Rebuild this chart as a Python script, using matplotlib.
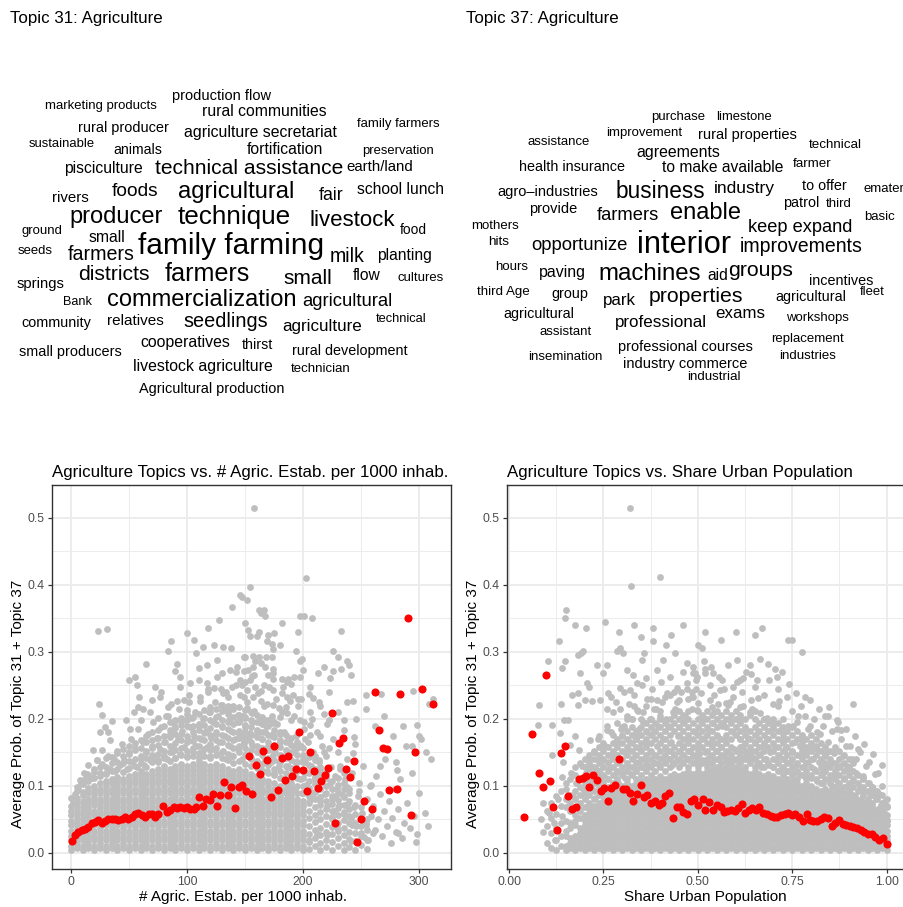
import matplotlib
matplotlib.use("Agg")
import matplotlib.pyplot as plt
from matplotlib.ticker import MultipleLocator

plt.rcParams['font.family'] = ['Liberation Sans', 'DejaVu Sans']

# ---------------------------------------------------------------- data
TITLE_31 = "Topic 31: Agriculture"
TITLE_37 = "Topic 37: Agriculture"

# word clouds: word, left px, right px, vertical centre px (layout)
WORDS_31 = [
    ("marketing products", 45, 157, 106), ("production flow", 172, 271, 96),
    ("rural communities", 202, 327, 112), ("rural producer", 78, 169, 128),
    ("agriculture secretariat", 183, 337, 132), ("family farmers", 357, 440, 124),
    ("sustainable", 29, 95, 144), ("animals", 113, 162, 150),
    ("fortification", 246, 323, 149), ("preservation", 362, 434, 151),
    ("pisciculture", 64, 143, 169), ("technical assistance", 155, 344, 168),
    ("earth/land", 346, 413, 167), ("rivers", 52, 89, 198), ("foods", 112, 159, 192),
    ("agricultural", 178, 295, 192), ("fair", 319, 344, 195), ("school lunch", 357, 444, 189),
    ("producer", 69, 163, 217), ("technique", 177, 291, 217), ("livestock", 309, 395, 220),
    ("food", 400, 427, 230), ("ground", 21, 62, 231), ("small", 88, 125, 238),
    ("family farming", 137, 325, 246), ("seeds", 18, 53, 251), ("farmers", 68, 135, 254),
    ("milk", 330, 365, 256), ("planting", 377, 432, 255), ("springs", 17, 65, 284),
    ("districts", 78, 150, 275), ("farmers", 164, 250, 274), ("small", 283, 332, 279),
    ("flow", 353, 381, 276), ("cultures", 398, 444, 278), ("Bank", 63, 92, 302),
    ("commercialization", 107, 297, 300), ("agricultural", 302, 393, 302),
    ("community", 21, 91, 323), ("relatives", 107, 164, 321), ("seedlings", 184, 268, 321),
    ("agriculture", 282, 362, 327), ("technical", 376, 427, 319),
    ("small producers", 19, 122, 352), ("cooperatives", 140, 230, 343),
    ("thirst", 242, 273, 345), ("rural development", 292, 408, 351),
    ("livestock agriculture", 133, 273, 366), ("technician", 291, 351, 369),
    ("Agricultural production", 139, 284, 389),
]
WORDS_37 = [
    ("purchase", 651, 705, 117), ("limestone", 716, 772, 117), ("assistance", 528, 590, 142),
    ("improvement", 606, 682, 133), ("rural properties", 698, 797, 135),
    ("technical", 809, 862, 145), ("agreements", 636, 720, 152),
    ("health insurance", 519, 625, 167), ("to make available", 662, 784, 167),
    ("farmer", 793, 832, 164), ("agro\u2013industries", 498, 598, 192),
    ("business", 616, 705, 192), ("industry", 714, 775, 188), ("to offer", 802, 847, 186),
    ("emater", 863, 904, 189), ("provide", 529, 577, 209), ("farmers", 596, 659, 215),
    ("enable", 670, 741, 213), ("patrol", 783, 819, 203), ("third", 826, 852, 204),
    ("basic", 864, 895, 217), ("keep expand", 748, 853, 228), ("mothers", 471, 519, 226),
    ("hits", 488, 509, 242), ("opportunize", 531, 628, 245), ("interior", 637, 732, 245),
    ("improvements", 740, 863, 247), ("hours", 495, 528, 267), ("paving", 539, 586, 273),
    ("machines", 598, 701, 274), ("aid", 707, 728, 275), ("groups", 728, 793, 270),
    ("incentives", 809, 873, 281), ("fleet", 860, 885, 292), ("third Age", 477, 530, 292),
    ("group", 551, 588, 294), ("park", 603, 636, 300), ("properties", 648, 743, 297),
    ("agricultural", 775, 846, 297), ("agricultural", 503, 574, 314), ("exams", 715, 765, 313),
    ("workshops", 786, 849, 318), ("professional", 615, 707, 323),
    ("assistant", 540, 592, 332), ("replacement", 771, 844, 339), ("industries", 779, 836, 356),
    ("professional courses", 618, 752, 347), ("insemination", 528, 603, 357),
    ("industry commerce", 623, 747, 364), ("industrial", 687, 741, 377),
]

TITLE_L = "Agriculture Topics vs. # Agric. Estab. per 1000 inhab."
TITLE_R = "Agriculture Topics vs. Share Urban Population"
XLABEL_L = "# Agric. Estab. per 1000 inhab."
XLABEL_R = "Share Urban Population"
YLABEL = "Average Prob. of Topic 31 + Topic 37"
XTICKS_L = [0, 100, 200, 300]
XTICKLABELS_L = ["0", "100", "200", "300"]
XTICKS_R = [0.0, 0.25, 0.5, 0.75, 1.0]
XTICKLABELS_R = ["0.00", "0.25", "0.50", "0.75", "1.00"]
YTICKS = [0.0, 0.1, 0.2, 0.3, 0.4, 0.5]
YTICKLABELS = ["0.0", "0.1", "0.2", "0.3", "0.4", "0.5"]

# binned means (red), left panel: estab. per 1000 inhab., probability
RED_L_X = [1.1, 3.4, 6.3, 9.2, 12, 14.9, 17.8, 20.7, 23.6, 26.4, 29.3, 32.2, 35.1, 38, 40.8,
           43.7, 46.6, 49.5, 52.4, 55.3, 58.1, 61, 63.9, 66.8, 69.7, 72.6, 75.4, 79.2, 82.6,
           85.5, 88.4, 91.3, 94.2, 97.1, 100, 102.9, 105.7, 108, 110.3, 113.4, 116.3, 119.5,
           122.4, 125.9, 128.7, 131.6, 135.1, 138, 141.7, 144.6, 147.5, 151,
           290.2, 262, 283.9, 302.6, 311.8, 225, 265.5, 196.8, 234.2, 231.3, 269.3, 272.1,
           296.3, 153.7, 165.8, 175.3, 169, 159.5, 181.6, 187.3, 206.3, 243.7, 162.9, 193.7,
           199.7, 190.8, 184.8, 209.5, 221.8, 218.7, 215.5, 237.3, 240.3, 212.7, 203.2, 178.2,
           172.2, 156.3, 274.4, 280.7, 252.9, 259.2, 293.1, 227.9, 250, 246.3]
RED_L_Y = [0.018, 0.027, 0.032, 0.034, 0.036, 0.039, 0.044, 0.046, 0.049, 0.045, 0.047, 0.051,
           0.051, 0.050, 0.049, 0.051, 0.054, 0.051, 0.054, 0.058, 0.059, 0.056, 0.054, 0.058,
           0.058, 0.054, 0.058, 0.070, 0.061, 0.064, 0.069, 0.067, 0.069, 0.067, 0.069, 0.066,
           0.066, 0.069, 0.083, 0.070, 0.080, 0.079, 0.088, 0.070, 0.087, 0.106, 0.086, 0.098,
           0.067, 0.098, 0.101, 0.092,
           0.351, 0.240, 0.237, 0.245, 0.223, 0.209, 0.183, 0.181, 0.171, 0.164, 0.156, 0.155,
           0.150, 0.145, 0.152, 0.160, 0.138, 0.131, 0.141, 0.144, 0.151, 0.137, 0.118, 0.125,
           0.124, 0.115, 0.109, 0.122, 0.127, 0.116, 0.107, 0.125, 0.113, 0.097, 0.093, 0.094,
           0.084, 0.088, 0.094, 0.096, 0.078, 0.066, 0.057, 0.044, 0.050, 0.017]

# binned means (red), right panel: share urban, probability
RED_R_X = [0.041, 0.060, 0.098, 0.079, 0.089, 0.109, 0.117, 0.128, 0.137, 0.147, 0.156, 0.166,
           0.177, 0.185, 0.195, 0.204, 0.213, 0.223, 0.232, 0.243, 0.252, 0.261, 0.270, 0.281,
           0.290, 0.301, 0.310, 0.320, 0.329, 0.338, 0.349, 0.357, 0.366, 0.377, 0.386, 0.396,
           0.405, 0.414, 0.424, 0.433, 0.444, 0.453, 0.462, 0.472, 0.482, 0.491, 0.500,
           0.513, 0.519, 0.530, 0.541, 0.550, 0.560, 0.569, 0.578, 0.589, 0.598, 0.607, 0.616,
           0.625, 0.635, 0.644, 0.653, 0.663, 0.673, 0.682, 0.693, 0.702, 0.710, 0.720, 0.730,
           0.739, 0.748, 0.757, 0.768, 0.778, 0.788, 0.797, 0.806, 0.816, 0.825, 0.835, 0.845,
           0.854, 0.863, 0.874, 0.883, 0.892, 0.903, 0.912, 0.921, 0.931, 0.941, 0.950, 0.960,
           0.969, 0.980, 0.989, 1.000]
RED_R_Y = [0.053, 0.178, 0.266, 0.120, 0.099, 0.107, 0.069, 0.035, 0.149, 0.159, 0.085, 0.065,
           0.068, 0.111, 0.112, 0.115, 0.098, 0.116, 0.109, 0.092, 0.097, 0.077, 0.097, 0.101,
           0.140, 0.095, 0.096, 0.090, 0.077, 0.088, 0.101, 0.083, 0.087, 0.075, 0.078, 0.072,
           0.074, 0.085, 0.089, 0.052, 0.068, 0.068, 0.061, 0.058, 0.078, 0.080, 0.071,
           0.080, 0.064, 0.076, 0.064, 0.072, 0.069, 0.061, 0.062, 0.064, 0.062, 0.067, 0.073,
           0.059, 0.064, 0.067, 0.064, 0.069, 0.060, 0.058, 0.055, 0.053, 0.054, 0.057, 0.058,
           0.060, 0.057, 0.058, 0.053, 0.048, 0.058, 0.049, 0.048, 0.047, 0.050, 0.054, 0.052,
           0.040, 0.045, 0.049, 0.043, 0.042, 0.040, 0.039, 0.037, 0.035, 0.031, 0.029, 0.028,
           0.024, 0.020, 0.023, 0.013]

# municipalities (grey). Left panel: "x: y y y" columns, x in estab./1000 inhab., y in 1/1000
GREY_L_DENSE = """
0: 4 11 19 26 33 41 48 56 63 70 82
5: 8 15 22 30 37 45 52 59 67 74 82 93
10: 4 11 19 26 33 41 49 56 63 70 78 86 91 103
15: 8 15 22 30 37 45 52 60 67 74 81 89 97 108 117
20: 4 11 19 26 33 41 48 56 63 71 78 85 93 100 112 121
25: 8 15 22 30 37 45 52 59 67 74 81 89 96 104 115 128
30: 4 11 19 26 33 41 48 56 63 70 78 85 93 100 107 119 128 141
35: 8 15 22 30 37 45 52 59 67 74 81 89 96 104 110 122 134 143
40: 4 11 19 26 33 41 48 56 63 70 78 85 93 100 107 113 125 136 149
45: 8 15 22 30 37 45 52 59 67 74 81 89 96 104 111 121 134 144 155
50: 4 11 19 26 33 41 48 56 63 70 78 85 93 100 107 115 127 137 150 159
55: 8 15 22 30 37 45 52 59 67 74 81 89 96 104 111 118 130 140 153 164
60: 4 11 19 26 33 41 48 56 63 70 78 85 93 100 107 115 122 134 144 157 168
65: 8 15 22 30 37 45 52 59 67 74 81 89 96 104 111 118 129 142 152 165 175
70: 4 11 19 26 33 41 48 56 63 70 78 85 93 100 107 115 122 135 146 156 169 180
75: 8 15 22 30 37 45 52 59 67 74 81 89 96 104 111 118 126 138 148 161 171 184
80: 4 11 19 26 33 41 48 56 63 70 78 85 93 100 107 115 122 130 142 152 165 175 189
85: 8 15 22 30 37 45 52 59 67 74 81 89 96 104 111 118 126 137 150 160 173 183 195
90: 4 11 19 26 33 41 48 56 63 70 78 85 93 100 107 115 122 130 141 154 164 177 187 198
95: 8 15 22 30 37 45 52 59 67 74 81 89 96 104 111 118 126 133 146 156 169 178 191 202
100: 4 11 19 26 33 41 48 56 63 70 78 85 93 100 107 115 122 130 143 152 166 175 189 199 207
105: 8 15 22 30 37 45 52 59 67 74 81 89 96 104 111 118 126 133 144 157 167 180 190 203
110: 4 11 19 26 33 41 48 56 63 70 78 85 93 100 107 115 122 130 137 149 160 172 184 193 207
115: 8 15 22 30 37 45 52 59 67 74 81 89 96 104 111 118 126 133 145 155 168 179 191 201 213
120: 4 11 19 26 33 41 48 56 63 70 78 85 93 100 107 115 122 130 141 153 163 176 186 199 210
125: 8 15 22 30 37 45 52 59 67 74 81 89 96 104 111 118 126 133 146 157 169 178 192 203 215
130: 4 11 19 26 33 41 48 56 63 70 78 85 93 100 107 115 122 130 142 151 165 176 188 198 212 221
135: 8 15 22 30 37 45 52 59 67 74 81 89 96 104 111 118 126 138 148 161 171 185 195 208 219
140: 4 11 19 26 33 41 48 56 63 70 78 85 93 100 107 115 122 134 144 157 169 180 192 203 215
145: 8 15 22 30 37 45 52 59 67 74 81 89 96 104 111 118 126 137 150 160 172 182 196 206 218
150: 4 11 19 26 33 41 48 56 63 70 78 85 93 100 107 115 122 133 146 156 168 180 191 203 214
155: 8 15 22 30 37 45 52 59 67 74 81 89 96 104 111 118 130 141 153 165 176 188 198 211
160: 4 11 19 26 33 41 48 56 63 70 78 85 93 100 107 115 127 137 150 160 173 184 196 206
165: 8 15 22 30 37 45 52 59 67 74 81 89 96 104 111 123 133 146 157 170 180 192 203
170: 4 11 19 26 33 41 48 56 63 70 78 85 93 100 107 119 131 142 153 165 176 189 199
175: 8 15 22 30 37 45 52 59 67 74 81 89 96 104 116 126 138 150 161 173 184 195
180: 4 11 19 26 33 41 48 56 63 70 78 85 93 100 112 123 135 146 158 169 181
185: 8 15 22 30 37 45 52 59 67 74 81 89 96 108 119 130 142 154 165 176
190: 4 11 19 26 33 41 48 56 63 70 78 85 93 104 116 127 139 150 161 172
195: 8 15 22 30 37 45 52 59 67 74 81 89 100 112 123 135 146 157 166
200: 4 11 19 26 33 41 48 56 63 70 78 89 100 112 123 135 146 157
205: 6 17 29 40 52 63 74 85 97 108 120 131 143
210: 11 22 34 46 57 68 80 91 103 114 126 138
215: 4 15 27 38 50 61 72 84 95 107 118 129
220: 9 20 32 43 55 66 77 89 100 112 121
225: 5 16 28 39 50 62 73 85 96 108
230: 10 22 33 45 56 67 79 90 101 112
235: 4 15 27 38 49 61 72 84 95 104
240: 9 21 32 44 55 66 78 89
245: 5 18 30 45 58 72
250: 12 26 40 54 68
255: 6 20 35 50
"""
# scattered municipalities, left panel: "x,y" with y in 1/1000
GREY_L_SCATTER = """
3,88 6,97 9,104 12,110 14,118 18,112 20,125 22,138 25,120 27,133 30,118 32,145 34,126 37,140
38,122 40,152 42,131 44,162 46,138 48,126 50,148 52,170 53,135 55,157 57,129 58,185 60,140
62,165 63,132 65,150 66,178 68,138 70,160 71,195 72,142 74,172 75,135 77,155 78,188 80,145
81,165 83,140 84,205 85,178 87,150 88,160 89,192 90,142 92,170 93,215 94,148 96,182 97,158
98,198 100,145 101,168 102,225 103,188 105,150 106,175 107,210 108,160 110,142 110,190 111,232
112,170 113,150 114,200 116,182 117,158 118,240 119,210 120,145 121,172 122,195 123,155 124,225
125,180 126,148 127,205 128,165 129,245 130,190 131,152 132,215 133,175 134,140 135,232 136,198
137,160 138,182 139,145 140,220 141,170 142,250 143,195 144,155 145,178 146,235 147,140 148,205
149,165 150,188 151,148 152,225 153,172 154,258 155,140 156,195 157,160 158,212 159,132 160,180
161,238 162,150 163,200 164,125 165,170 166,220 167,140 168,190 169,122 170,160 171,248 172,135
173,205 174,178 175,118 176,150 177,230 178,192 179,130 180,165 181,112 182,210 183,145 184,180
185,105 186,255 187,130 188,165 189,100 190,198 191,120 192,150 193,95 194,175 195,135 196,220
197,110 198,160 199,90 200,140 201,185 202,120 203,102 204,165 205,92 206,210 207,130 208,85
209,150 210,110 212,180 213,95 214,135 215,78 216,160 218,115 219,88 220,145 221,70 222,198
223,105 224,128 225,80 226,170 227,62 228,115 229,95 230,150 231,72 232,130 234,88 235,58
236,110 238,140 239,75 240,95 241,52 242,120 244,68 245,162 246,40 247,85 248,105 250,30 251,60
252,130 254,45 255,80 256,20 258,100 259,55 260,70 262,35 263,115 265,50 266,88 268,25 270,62
271,140 272,40 274,78 276,15 277,52 279,95 280,32 282,65 284,110 285,22 287,45 289,160 290,75
292,38 294,120 296,55 298,28 300,90 302,170 305,60 308,40 310,140 312,230
24,223 27,206 25,181 29,188 35,197 32,181 34,169 19,154 27,154 22,139 15,131 11,119 8,109 5,99
2,74 50,258 55,263 57,251 65,282 59,233 58,218 54,211 47,199 51,185 60,199 68,210 75,201 72,248
77,233 84,301 86,316 91,282 90,271 94,263 84,218 82,204 91,226 97,228 103,253 106,318 108,298
114,308 123,311 131,308 138,306 110,276 117,281 126,288 130,268 137,273 143,278 149,293 117,253
123,246 131,238 139,248 147,251 111,226 120,218 129,221 136,213 144,206 152,216 100,214 104,201
94,199 158,515 203,410 23,331 31,334 147,382 139,367 128,348 118,335 150,343 100,328
154,397 146,385 152,378 162,363 166,362 167,354 164,358 182,343 197,354 201,353 208,351 233,331
153,333 162,329 160,323 154,323 170,325 175,328 169,317 173,312 174,305 180,311 196,329 194,301
197,286 199,290 226,301 230,292 238,287 240,281 218,277 213,269 223,261 226,272 233,274 241,266
150,292 157,294 162,292 168,292 173,293 159,287 164,283 167,277 157,277 153,273 149,271 146,258
156,264 170,266 174,268 174,259 182,259 187,259 192,263 197,263 200,273 191,236 186,233 189,227
183,247 174,243 164,242 159,248 152,243 149,233 157,233 164,226 169,223 174,221 179,217 185,218
205,237 209,231 196,229 215,219 218,208 221,193 208,200 206,191 201,196 197,198 192,204 186,209
180,203 174,194 167,199 162,196 156,209 150,201 146,199 215,174 206,176 202,170 196,163 192,159
186,167 180,178 173,174 167,181 160,176 154,179 149,174 210,144 214,139 218,150 222,156 215,126
212,110 207,129 202,136 193,136 186,129 179,136 174,146 169,154 162,156 156,161 149,164 232,126
235,120 243,149 244,173 235,184 235,199 243,226 254,236 267,237 295,242 298,191 280,136 281,124
266,130 259,102 248,92 238,99 228,85 237,71 225,53 229,39 221,27 212,28 205,19 242,42 252,49
254,42 260,30 253,24 241,18 282,30 297,17 206,79 215,84 200,89 309,222
62,215 70,228 78,240 86,222 94,248 102,235 110,258 118,245 126,262 134,240 142,270 150,255
158,265 166,250 174,275 182,238 190,252 198,230 206,248 214,225 222,240 230,210 238,225 246,200
254,215 262,190 270,205 278,175 286,190 294,160 300,175 306,150
"""

# right panel: "x: y y y" columns, x and y in 1/1000
GREY_R_DENSE = """
100: 15 40 62
112: 8 30 52 75
125: 4 20 38 58 85
137: 10 26 45 70 92
150: 4 11 26 33 48 68 80 104
162: 8 15 22 37 45 62 74 86 110
175: 4 11 19 26 41 48 56 68 80 92 116 128
187: 8 15 22 30 37 52 62 74 86 98 110 134
200: 4 11 19 26 33 41 48 56 68 80 92 104 116 128 140
212: 8 15 22 30 37 45 52 59 67 74 86 98 110 122 134 146
225: 4 11 19 26 33 41 48 56 63 70 80 92 104 116 128 140 152
237: 8 15 22 30 37 45 52 59 67 74 86 98 110 122 134 146 158
250: 4 11 19 26 33 41 48 56 63 70 78 85 92 104 116 128 140 152 164
262: 8 15 22 30 37 45 52 59 67 74 81 89 98 110 122 134 146 158
275: 4 11 19 26 33 41 48 56 63 70 78 85 93 104 116 128 140 152 164 176
287: 8 15 22 30 37 45 52 59 67 74 81 89 96 110 122 134 146 158 170
300: 4 11 19 26 33 41 48 56 63 70 78 85 93 100 116 128 140 152 164 176 188
312: 8 15 22 30 37 45 52 59 67 74 81 89 96 104 110 122 134 146 158 170 182
325: 4 11 19 26 33 41 48 56 63 70 78 85 93 100 116 128 140 152 164 176 188 200
337: 8 15 22 30 37 45 52 59 67 74 81 89 96 104 110 122 134 146 158 170 182
350: 4 11 19 26 33 41 48 56 63 70 78 85 93 100 107 116 128 140 152 164 176 188 200
362: 8 15 22 30 37 45 52 59 67 74 81 89 96 104 111 122 134 146 158 170 182 194
375: 4 11 19 26 33 41 48 56 63 70 78 85 93 100 107 116 128 140 152 164 176 188 200
387: 8 15 22 30 37 45 52 59 67 74 81 89 96 104 111 122 134 146 170 182 194
400: 4 11 19 26 33 41 48 56 63 70 78 85 93 100 107 115 128 140 152 164 176 188 200 212
412: 8 15 22 30 37 45 52 59 67 74 81 89 96 104 111 122 134 146 158 170 182 194
425: 4 11 19 26 33 41 48 56 63 70 78 85 93 100 107 115 128 140 152 164 176 188 200
437: 8 15 22 30 37 45 52 59 67 74 81 89 96 104 111 118 134 146 158 182 194 206
450: 4 11 19 26 33 41 48 56 63 70 78 85 93 100 107 115 128 140 152 164 176 188 200 212
462: 8 15 22 30 37 45 52 59 67 74 81 89 96 104 111 118 134 146 158 170 182 194 206
475: 4 11 19 26 33 41 48 56 63 70 78 85 93 100 107 115 122 128 140 152 164 176 188 200 212
487: 8 15 22 30 37 45 52 59 67 74 81 89 96 104 111 118 134 146 158 170 182 194
500: 4 11 19 26 33 41 48 56 63 70 78 85 93 100 107 115 122 128 140 152 164 176 188 200 212 224
512: 8 15 22 30 37 45 52 59 67 74 81 89 96 104 111 118 134 158 170 182 194 206
525: 4 11 19 26 33 41 48 56 63 70 78 85 93 100 107 115 122 128 140 152 164 176 188 200 212
537: 8 15 22 30 37 45 52 59 67 74 81 89 96 104 111 118 126 134 146 158 170 182 194 206 218
550: 4 11 19 26 33 41 48 56 63 70 78 85 93 100 107 115 122 128 140 152 164 176 188 200 212
562: 8 15 22 30 37 45 52 59 67 74 81 89 96 104 111 118 126 134 146 158 170 194 206
575: 4 11 19 26 33 41 48 56 63 70 78 85 93 100 107 115 122 128 140 152 164 176 188 200 212 224
587: 8 15 22 30 37 45 52 59 67 74 81 89 96 104 111 118 126 134 146 158 170 182 194 206
600: 4 11 19 26 33 41 48 56 63 70 78 85 93 100 107 115 122 128 140 152 176 188 200 212
612: 8 15 22 30 37 45 52 59 67 74 81 89 96 104 111 118 126 134 146 158 170 182 194 206 218
625: 4 11 19 26 33 41 48 56 63 70 78 85 93 100 107 115 122 128 140 152 164 176 188 200
637: 8 15 22 30 37 45 52 59 67 74 81 89 96 104 111 118 134 146 158 170 182 206
650: 4 11 19 26 33 41 48 56 63 70 78 85 93 100 107 115 122 128 140 152 164 176 188 200 212
662: 8 15 22 30 37 45 52 59 67 74 81 89 96 104 111 118 134 146 158 170 182 194
675: 4 11 19 26 33 41 48 56 63 70 78 85 93 100 107 115 128 140 152 164 176 188 200
687: 8 15 22 30 37 45 52 59 67 74 81 89 96 104 111 118 134 158 170 182 194
700: 4 11 19 26 33 41 48 56 63 70 78 85 93 100 107 115 128 140 152 164 176 188 200
712: 8 15 22 30 37 45 52 59 67 74 81 89 96 104 111 122 134 146 158 170 182 194
725: 4 11 19 26 33 41 48 56 63 70 78 85 93 100 107 116 128 140 152 164 188 200
737: 8 15 22 30 37 45 52 59 67 74 81 89 96 104 111 122 134 146 158 170 182
750: 4 11 19 26 33 41 48 56 63 70 78 85 93 100 107 116 128 140 152 164 176 188
762: 8 15 22 30 37 45 52 59 67 74 81 89 96 104 110 122 134 146 170 182
775: 4 11 19 26 33 41 48 56 63 70 78 85 93 100 116 128 140 152 164 176
787: 8 15 22 30 37 45 52 59 67 74 81 89 96 104 110 122 134 146 158 170
800: 4 11 19 26 33 41 48 56 63 70 78 85 93 100 116 128 140 152 164 176
812: 8 15 22 30 37 45 52 59 67 74 81 89 96 110 122 146 158 170
825: 4 11 19 26 33 41 48 56 63 70 78 85 93 104 116 128 140 152 164
837: 8 15 22 30 37 45 52 59 67 74 81 89 96 110 122 134 146 158
850: 4 11 19 26 33 41 48 56 63 70 78 85 93 104 116 128 140 152
862: 8 15 22 30 37 45 52 59 67 74 81 89 98 110 122 134 158
875: 4 11 19 26 33 41 48 56 63 70 78 85 92 104 116 128 140 152
887: 8 15 22 30 37 45 52 59 67 74 81 89 98 110 122 134 146
900: 4 11 19 26 33 41 48 56 63 70 78 85 92 104 116 128 140
912: 8 15 22 30 37 45 52 59 67 74 81 86 98 110 122 134
925: 4 11 19 26 33 41 48 56 63 70 78 92 104 116
937: 8 15 22 30 37 45 52 59 67 74 86 98 110
950: 4 11 19 26 33 41 48 56 63 70 80 92 104
962: 8 15 22 30 37 45 52 59 67 74 86 98
975: 4 11 19 26 33 41 48 56 63 80 92
987: 8 15 22 30 37 45 52 59 74 86
1000: 4 11 19 26 33 41 48 56 68 80
"""
GREY_R_SCATTER = """
200,85 205,110 210,70 215,130 220,95 224,150 228,82 232,118 236,170 240,100 244,135 248,90
252,160 256,112 260,190 264,125 268,98 272,145 276,210 280,118 284,165 288,105 292,135 296,185
300,120 304,150 308,112 312,200 316,130 320,165 324,118 328,142 332,220 336,125 340,175 344,135
348,155 352,128 356,195 360,140 364,165 368,130 372,150 376,230 380,135 384,180 388,145 392,160
396,132 400,205 404,142 408,170 412,135 416,155 420,190 424,140 428,165 432,132 436,148 440,215
444,138 448,175 452,150 456,135 460,160 464,195 468,142 472,170 476,138 480,152 484,240 488,145
492,180 496,135 500,160 504,148 508,200 512,138 516,172 520,150 524,135 528,185 532,145 536,162
540,138 544,210 548,152 552,175 556,140 560,158 564,190 568,145 572,168 576,135 580,150 584,225
588,142 592,180 596,155 600,138 604,200 608,150 612,170 616,140 620,160 624,185 628,145 632,172
636,138 640,152 644,215 648,142 652,165 656,135 660,180 664,148 668,128 672,160 676,200 680,140
684,170 688,132 692,150 696,185 700,128 704,158 708,138 712,220 716,145 720,125 724,170 728,140
732,155 736,122 740,190 744,135 748,150 752,120 756,165 760,132 764,205 768,118 772,145 776,172
780,128 784,115 788,152 792,135 796,190 800,112 804,140 808,125 812,160 816,108 820,135 824,178
828,120 832,105 836,145 840,128 844,165 848,110 852,135 856,100 860,150 864,118 868,185 872,105
876,130 880,95 884,145 888,112 892,160 896,100 900,125 904,90 908,140 912,108 916,85 920,120
924,155 928,98 932,80 936,115 940,92 944,130 948,78 952,105 956,88 960,70 964,95 968,118 972,80
976,65 980,88 984,72 988,100 992,60 996,78 1000,70
104,286 79,221 78,191 113,191 91,75 85,50 91,32 113,146 122,19 139,276 148,286 133,316 138,223
146,199 157,199 135,179 144,136 139,114 184,296 190,298 197,301 188,268 184,221 166,236 184,238
206,253 213,248 232,281 248,268 259,281 285,301 294,306 303,298 312,273 329,266 351,288 357,298
382,316 416,311 440,298 470,283 488,268 409,288 391,273 364,261 338,253 320,243 294,246 263,238
241,228 219,226 201,228 175,174 162,161 186,154 214,169 237,174 259,184 285,194 312,204 338,214
364,219 391,228 417,238 444,246 470,253 497,263
105,60 118,45 130,80 140,55 150,95 155,70 165,120 170,85 178,105 185,65 192,130 195,95 205,120
210,140 218,105 225,150 230,125 240,140 245,115 255,160 262,135 270,180 275,150 285,165 290,140
300,175 305,190 315,155 325,200 335,170 345,185 355,210 365,180 372,200 385,215 395,190 405,225
415,200 425,235 435,210 445,225 455,240 465,205 475,230 485,215 495,245
501,311 510,306 488,278 516,286 534,278 519,268 541,268 492,268 563,258 603,288 638,281 641,267
685,282 704,275 710,262 741,252 750,318 612,258 620,261 594,248 559,243 656,258 660,231 716,226
784,232 910,223 848,218 837,205 872,196 878,184 815,181 792,185 762,196 753,190 722,186 726,178
775,174 797,159 770,159 816,155 841,151 860,149 920,140 894,130 868,129 832,119 938,112 960,99
973,87 991,74 987,64 1000,49 620,219 638,211 612,199 665,209 682,201 700,194 585,199 567,194
541,194 514,203 497,214 488,233 532,228 554,223 581,221
320,515 400,412 322,398 150,362 148,350 175,340 205,335 255,345 290,330 330,340 350,322 380,335
430,325 460,340 520,330 560,318 600,330 650,325 670,335 740,318 775,300
260,215 270,232 282,225 295,215 305,240 318,222 330,235 342,212 352,250 365,230 378,245 390,215
402,255 414,232 426,262 438,240 450,228 460,270 472,245 484,232 496,258 508,238 520,275 532,250
544,236 556,262 568,245 580,280 592,232 604,255 616,240 628,270 640,228 652,248 664,290 676,235
688,258 700,222 712,245 724,270 736,232 748,212 760,238 772,220 784,205 796,228 808,200 820,215
832,190 844,205 856,182 868,198 880,170 892,185 904,160 916,175 928,150 940,162 952,135 964,148
976,120 988,132
"""


def parse_columns(text, xs=1.0, ys=0.001):
    gx, gy = [], []
    for line in text.strip().splitlines():
        xv, yv = line.split(":")
        for v in yv.split():
            gx.append(float(xv) * xs)
            gy.append(float(v) * ys)
    return gx, gy


def parse_pairs(text, xs=1.0, ys=0.001):
    gx, gy = [], []
    for tok in text.split():
        a, b = tok.split(",")
        gx.append(float(a) * xs)
        gy.append(float(b) * ys)
    return gx, gy


gl1 = parse_columns(GREY_L_DENSE)
gl2 = parse_pairs(GREY_L_SCATTER)
GREY_L_X = gl1[0] + gl2[0]
GREY_L_Y = gl1[1] + gl2[1]
gr1 = parse_columns(GREY_R_DENSE, xs=0.001)
gr2 = parse_pairs(GREY_R_SCATTER, xs=0.001)
GREY_R_X = gr1[0] + gr2[0]
GREY_R_Y = gr1[1] + gr2[1]

# ---------------------------------------------------------------- figure
W, H = 904, 907
fig = plt.figure(figsize=(W / 100, H / 100), dpi=100)
fig.patch.set_facecolor("white")
renderer = fig.canvas.get_renderer()


def ptext(x, y, s, **kw):
    return fig.text(x / W, 1 - y / H, s, **kw)


ptext(10, 19, TITLE_31, fontsize=12.2, ha="left", va="center", color="black")
ptext(466, 19, TITLE_37, fontsize=12.2, ha="left", va="center", color="black")

for words in (WORDS_31, WORDS_37):
    for word, x0, x1, yc in words:
        t = ptext((x0 + x1) / 2, yc, word, fontsize=10, ha="center", va="center",
                  color="black")
        w = t.get_window_extent(renderer).width
        t.set_fontsize(10 * (x1 - x0) / w)

GREY = "#BEBEBE"
RED = "#FF0000"
BORDER = "#333333"


def style(ax, xlim, ylim, xt, xtl, xminor):
    ax.set_xlim(*xlim)
    ax.set_ylim(*ylim)
    ax.set_xticks(xt)
    ax.set_xticklabels(xtl)
    ax.set_yticks(YTICKS)
    ax.set_yticklabels(YTICKLABELS)
    ax.xaxis.set_minor_locator(MultipleLocator(xminor))
    ax.yaxis.set_minor_locator(MultipleLocator(0.05))
    ax.grid(True, which="major", color="#EBEBEB", linewidth=1.3, zorder=0)
    ax.grid(True, which="minor", color="#EBEBEB", linewidth=0.65, zorder=0)
    ax.set_axisbelow(True)
    for sp in ax.spines.values():
        sp.set_color(BORDER)
        sp.set_linewidth(1.0)
    ax.tick_params(which="major", length=3.2, width=0.9, color=BORDER,
                   labelsize=8.8, labelcolor="#4D4D4D", pad=2)
    ax.tick_params(which="minor", length=0)


top, bot = 485, 869
axL = fig.add_axes([52 / W, 1 - bot / H, (451 - 52) / W, (bot - top) / H])
axR = fig.add_axes([507 / W, 1 - bot / H, (904 - 507) / W, (bot - top) / H])

axL.scatter(GREY_L_X, GREY_L_Y, s=24, color=GREY, linewidths=0, zorder=2)
axL.scatter(RED_L_X, RED_L_Y, s=34, color=RED, linewidths=0, zorder=3)
style(axL, (-16.4, 327.6), (-0.0239, 0.549), XTICKS_L, XTICKLABELS_L, 50)

axR.scatter(GREY_R_X, GREY_R_Y, s=24, color=GREY, linewidths=0, zorder=2)
axR.scatter(RED_R_X, RED_R_Y, s=34, color=RED, linewidths=0, zorder=3)
style(axR, (-0.0053, 1.0458), (-0.0239, 0.549), XTICKS_R, XTICKLABELS_R, 0.125)

ptext(52, 472, TITLE_L, fontsize=12.2, ha="left", va="center", color="black")
ptext(507, 472, TITLE_R, fontsize=12.2, ha="left", va="center", color="black")
ptext(243, 897, XLABEL_L, fontsize=11, ha="center", va="center", color="black")
ptext(705, 897, XLABEL_R, fontsize=11, ha="center", va="center", color="black")
ptext(18, 704, YLABEL, fontsize=11, ha="center", va="center", rotation=90, color="black")
ptext(473, 704, YLABEL, fontsize=11, ha="center", va="center", rotation=90, color="black")

fig.savefig("out.png", dpi=100, facecolor="white")
